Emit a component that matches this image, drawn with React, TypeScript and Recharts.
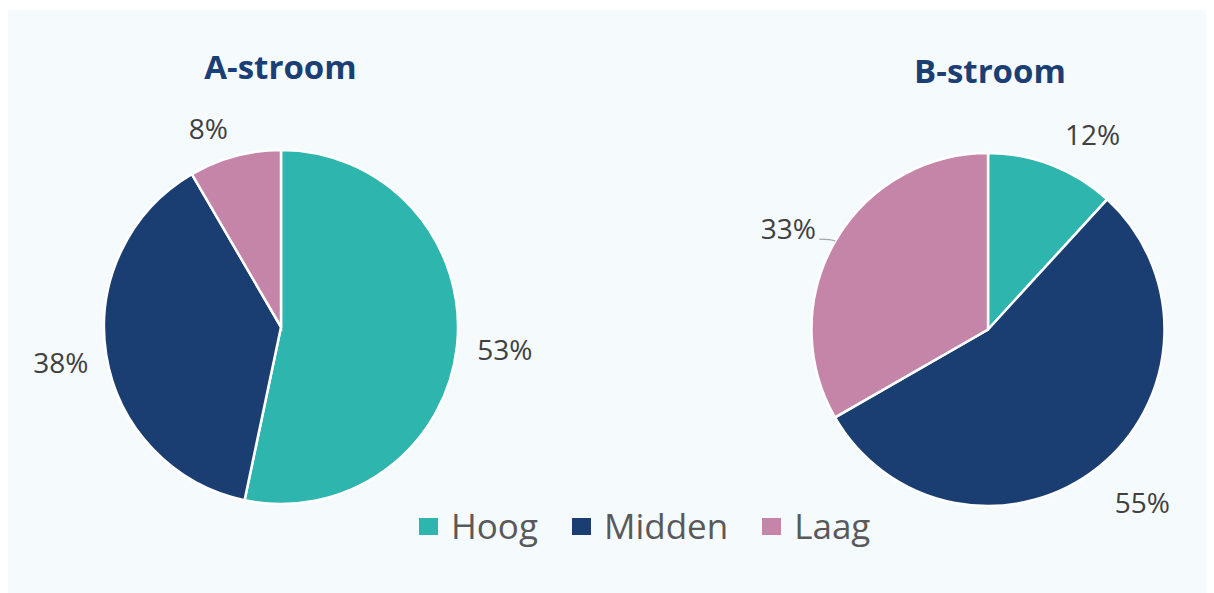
import React from 'react';
import { PieChart, Pie, Cell, Legend } from 'recharts';

const categories = ['Hoog', 'Midden', 'Laag'];
const colors = ['#2eb5ad', '#1a3e72', '#c585a8'];
const aStroomValues = [53.3, 38.3, 8.4];
const bStroomValues = [11.8, 54.9, 33.3];
const titles = ['A-stroom', 'B-stroom'];

// label placement tweaks (degrees of rotation, radial distance beyond the rim)
const labelAngleNudgeA = [0, 0, 5];
const labelGapA = [48, 46, 34];
const labelAngleNudgeB = [-7, 3, 3.4];
const labelGapB = [44.5, 55.5, 47];

const dataA = categories.map((name, i) => ({ name, value: aStroomValues[i] }));
const dataB = categories.map((name, i) => ({ name, value: bStroomValues[i] }));

const W = 1206;
const H = 583;
const FONT = '"Open Sans", "Noto Sans", sans-serif';
const RAD = Math.PI / 180;

const makeLabel = (nudges: number[], gaps: number[], leaderIndex: number | null) => (props: any) => {
  const { cx, cy, midAngle, outerRadius, value, index } = props;
  const a = midAngle + nudges[index];
  const r = outerRadius + gaps[index];
  const x = cx + r * Math.cos(-a * RAD);
  const y = cy + r * Math.sin(-a * RAD);
  const ex = cx + outerRadius * Math.cos(-midAngle * RAD);
  const ey = cy + outerRadius * Math.sin(-midAngle * RAD);
  return (
    <g key={`lbl-${index}`}>
      {leaderIndex === index && (
        <path d={`M${ex},${ey} Q${ex - 4},${ey - 2} ${ex - 16},${ey - 2}`} stroke="#a6a6a6" strokeWidth={1.2} fill="none" />
      )}
      <text x={x} y={y + 10} textAnchor="middle" fill="#404040" fontSize={28} fontFamily={FONT}>
        {`${Math.round(value)}%`}
      </text>
    </g>
  );
};

const renderLegend = () => (
  <div style={{ display: 'flex', alignItems: 'center', fontFamily: FONT, fontSize: 35, lineHeight: '48px', color: '#595959' }}>
    {categories.map((c, i) => (
      <div key={c} style={{ display: 'flex', alignItems: 'center', marginRight: 34 }}>
        <div style={{ width: 19, height: 17, background: colors[i], marginRight: 13 }} />
        <span>{c}</span>
      </div>
    ))}
  </div>
);

export default function App() {
  return (
    <div style={{ width: W, height: H, marginTop: 2, background: '#f5fafd' }}>
      <PieChart width={W} height={H} margin={{ top: 0, right: 0, bottom: 0, left: 0 }}>
        <text x={272.5} y={69} textAnchor="middle" fill="#1b3f74" fontSize={33} fontWeight="bold" fontFamily={FONT}>
          {titles[0]}
        </text>
        <text x={982} y={73} textAnchor="middle" fill="#1b3f74" fontSize={33} fontWeight="bold" fontFamily={FONT}>
          {titles[1]}
        </text>
        <Pie
          data={dataA}
          dataKey="value"
          nameKey="name"
          cx={273}
          cy={317}
          outerRadius={177}
          startAngle={90}
          endAngle={-270}
          stroke="#ffffff"
          strokeWidth={2.5}
          label={makeLabel(labelAngleNudgeA, labelGapA, null)}
          labelLine={false}
          isAnimationActive={false}
        >
          {dataA.map((d, i) => (
            <Cell key={d.name} fill={colors[i]} />
          ))}
        </Pie>
        <Pie
          data={dataB}
          dataKey="value"
          nameKey="name"
          cx={980}
          cy={319.5}
          outerRadius={176.5}
          startAngle={90}
          endAngle={-270}
          stroke="#ffffff"
          strokeWidth={2.5}
          label={makeLabel(labelAngleNudgeB, labelGapB, 2)}
          labelLine={false}
          isAnimationActive={false}
        >
          {dataB.map((d, i) => (
            <Cell key={d.name} fill={colors[i]} />
          ))}
        </Pie>
        <Legend
          content={renderLegend}
          wrapperStyle={{ position: 'absolute', top: 492, left: 411, bottom: 'auto', width: 'auto' }}
        />
      </PieChart>
    </div>
  );
}
